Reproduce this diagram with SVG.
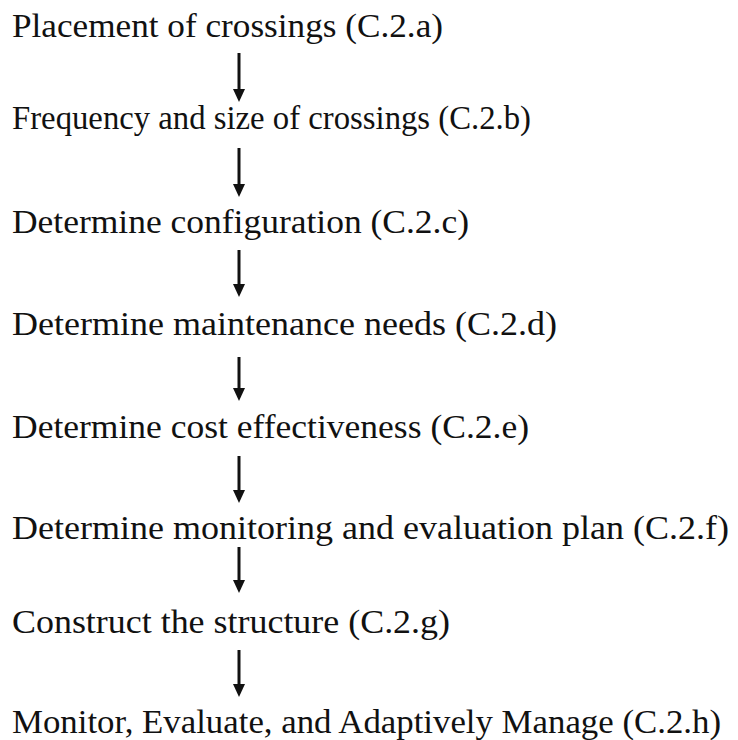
<svg xmlns="http://www.w3.org/2000/svg" width="738" height="740" viewBox="0 0 738 740">
<style>
  .lbl { font-family: "Liberation Serif", "DejaVu Serif", serif; font-size: 33px; fill: #111; }
  .arr { stroke: #111; stroke-width: 3; fill: none; }
  .head { fill: #111; }
</style>
<rect width="738" height="740" fill="#ffffff"/>
<g id="connectors">
  <path class="arr" d="M239,53 V90"/>
  <path class="arr" d="M239,148 V185"/>
  <path class="arr" d="M239,250 V285"/>
  <path class="arr" d="M239,357 V389"/>
  <path class="arr" d="M239,456 V491"/>
  <path class="arr" d="M239,547 V581"/>
  <path class="arr" d="M239,650 V685"/>
  <polygon class="head" points="233,89 245,89 239,102"/>
  <polygon class="head" points="233,184 245,184 239,197"/>
  <polygon class="head" points="233,284 245,284 239,297"/>
  <polygon class="head" points="233,388 245,388 239,401"/>
  <polygon class="head" points="233,490 245,490 239,503"/>
  <polygon class="head" points="233,580 245,580 239,593"/>
  <polygon class="head" points="233,684 245,684 239,697"/>
</g>
<g id="n1"><text class="lbl" x="12" y="37" textLength="431" lengthAdjust="spacingAndGlyphs">Placement of crossings (C.2.a)</text></g>
<g id="n2"><text class="lbl" x="12" y="129" textLength="519" lengthAdjust="spacingAndGlyphs">Frequency and size of crossings (C.2.b)</text></g>
<g id="n3"><text class="lbl" x="12" y="233" textLength="457" lengthAdjust="spacingAndGlyphs">Determine configuration (C.2.c)</text></g>
<g id="n4"><text class="lbl" x="12" y="335" textLength="545" lengthAdjust="spacingAndGlyphs">Determine maintenance needs  (C.2.d)</text></g>
<g id="n5"><text class="lbl" x="12" y="438" textLength="517" lengthAdjust="spacingAndGlyphs">Determine cost effectiveness (C.2.e)</text></g>
<g id="n6"><text class="lbl" x="12" y="539" textLength="717" lengthAdjust="spacingAndGlyphs">Determine monitoring and evaluation plan (C.2.f)</text></g>
<g id="n7"><text class="lbl" x="12" y="633" textLength="438" lengthAdjust="spacingAndGlyphs">Construct the structure (C.2.g)</text></g>
<g id="n8"><text class="lbl" x="12" y="733" textLength="709" lengthAdjust="spacingAndGlyphs">Monitor, Evaluate, and Adaptively Manage (C.2.h)</text></g>
</svg>
